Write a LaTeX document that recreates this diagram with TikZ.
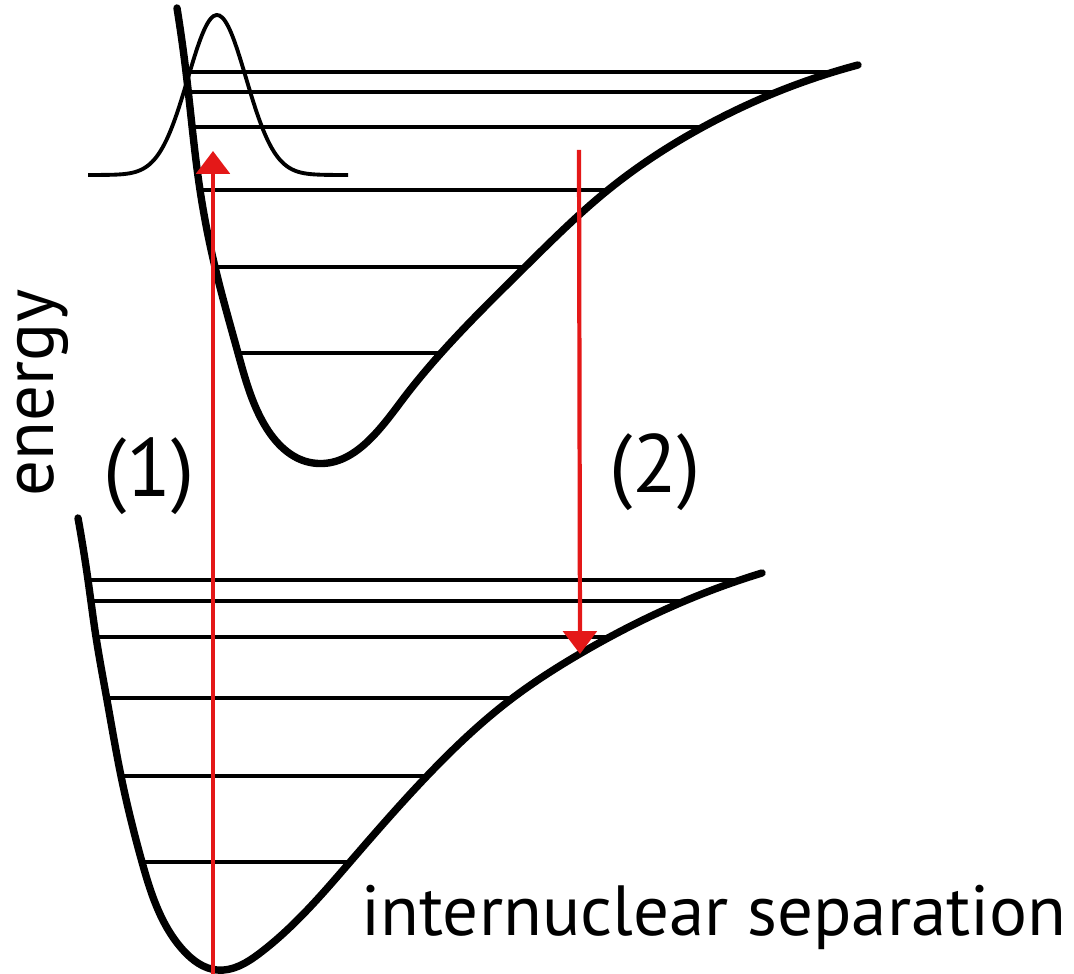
\documentclass[tikz,border=0pt]{standalone}
\usepackage{fontspec}
\setmainfont{PT Sans}
\usepackage{tikz}
\usetikzlibrary{arrows.meta,hobby}
\definecolor{transRed}{RGB}{228,24,24}
\definecolor{inkBlack}{RGB}{0,0,0}
\tikzset{
  pot curve/.style={draw=inkBlack,line width=2.1pt,line cap=round,line join=round,use Hobby shortcut},
  level line/.style={draw=inkBlack,line width=1.05pt},
  wave line/.style={draw=inkBlack,line width=1.1pt},
  trans arrow/.style={-{Triangle[width=9.5pt,length=6.5pt]},draw=transRed,line width=1.2pt},
  axis label/.style={inner sep=0pt,font=\fontsize{20.2}{24}\selectfont},
  step label/.style={inner sep=0pt,font=\fontsize{23.5}{27}\selectfont}
}
\begin{document}
\begin{tikzpicture}[x=0.01cm,y=-0.01cm]
  \useasboundingbox (0,0) rectangle (1074,974);
  % excited state curve
  \draw[pot curve] (177,8) .. (186,72) .. (200,190) .. (215,267) .. (238,353) .. (264,424) .. (313,463) .. (400,403) .. (525,267) .. (608,190) .. (703,127) .. (777,92) .. (858,65);
  % ground state curve
  \draw[pot curve] (78,518) .. (88,580) .. (96,637) .. (107,700) .. (121,776) .. (142,862) .. (183,950) .. (217,970) .. (260,953) .. (350,862) .. (427,776) .. (510,700) .. (583,652) .. (680,603) .. (762,573);
  % vibrational levels, upper
  \draw[level line] (186,72) -- (830,72);
  \draw[level line] (188,92) -- (777,92);
  \draw[level line] (191,127) -- (703,127);
  \draw[level line] (203,190) -- (608,190);
  \draw[level line] (215,267) -- (525,267);
  \draw[level line] (238,353) -- (442,353);
  % vibrational levels, lower
  \draw[level line] (89,580) -- (740,580);
  \draw[level line] (92,601) -- (680,601);
  \draw[level line] (96,637) -- (607,637);
  \draw[level line] (106,698) -- (512,698);
  \draw[level line] (120,776) -- (428,776);
  \draw[level line] (142,862) -- (350,862);
  % wavefunction
  \draw[wave line] plot[domain=88:348,samples=90,smooth] (\x,{175-160*exp(-0.5*((\x-217)/29)^2)});
  % transitions
  \coordinate (absFrom) at (213,974);
  \coordinate (absTo) at (213,151);
  \coordinate (emFrom) at (579,150);
  \coordinate (emTo) at (580,654);
  \draw[trans arrow] (absFrom) -- (absTo);
  \draw[trans arrow] (emFrom) -- (emTo);
  % labels
  \node[axis label,rotate=90,anchor=base] (energy) at (53,393) {energy};
  \node[axis label,anchor=base west] (separation) at (361,935) {internuclear separation};
  \node[step label,anchor=base] (stepOne) at (149,497) {(1)};
  \node[step label,anchor=base] (stepTwo) at (655,493) {(2)};
\end{tikzpicture}
\end{document}
